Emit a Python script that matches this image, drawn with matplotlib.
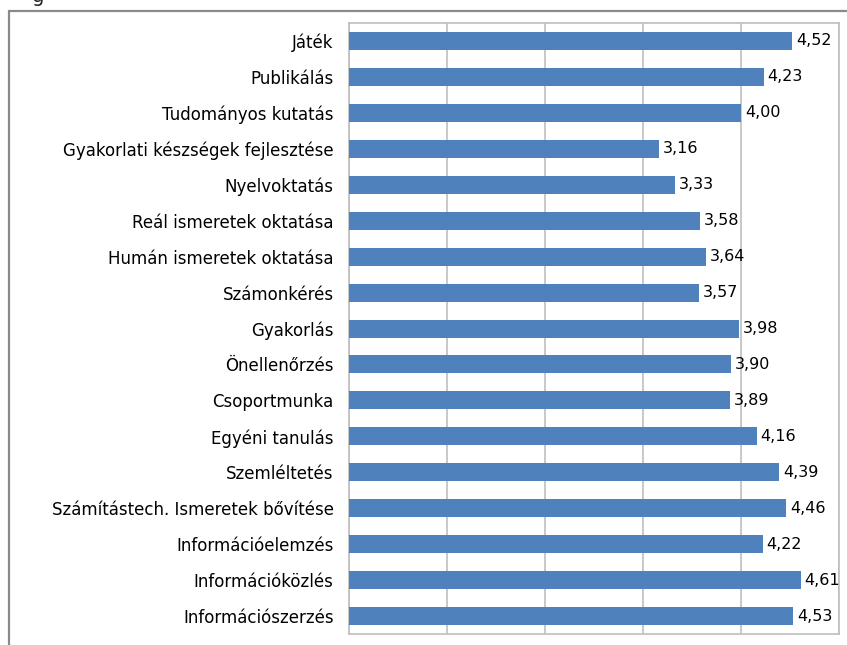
import matplotlib
matplotlib.use('Agg')
import matplotlib.pyplot as plt
from matplotlib.patches import Rectangle

plt.rcParams['font.family'] = ['DejaVu Sans']

# categories top to bottom, as in the picture
categories = ['Játék', 'Publikálás', 'Tudományos kutatás',
              'Gyakorlati készségek fejlesztése', 'Nyelvoktatás',
              'Reál ismeretek oktatása', 'Humán ismeretek oktatása',
              'Számonkérés', 'Gyakorlás', 'Önellenőrzés', 'Csoportmunka',
              'Egyéni tanulás', 'Szemléltetés',
              'Számítástech. Ismeretek bővítése', 'Információelemzés',
              'Információközlés', 'Információszerzés']
values = [4.52, 4.23, 4.00, 3.16, 3.33, 3.58, 3.64, 3.57, 3.98, 3.90,
          3.89, 4.16, 4.39, 4.46, 4.22, 4.61, 4.53]
x_ticks = [0, 1, 2, 3, 4, 5]

fig = plt.figure(figsize=(8.47, 6.45), dpi=100)
ax = fig.add_axes([0.412, 0.017, 0.5786, 0.9473])

# outer chart frame, partly cut off by the picture edge
fig.patches.append(Rectangle((9 / 847, -0.05), 1.1, 1 - 11 / 645 + 0.05,
                             transform=fig.transFigure, fill=False,
                             edgecolor='#8a8a8a', linewidth=1.6))
# fragment of the caption above the chart
fig.text(38 / 847, 1.006, 'g', fontsize=14, ha='center', va='center',
         color='#222222')

ypos = list(range(len(categories)))
ax.barh(ypos, values, height=0.5, color='#4f81bd', zorder=3)
for y, v in zip(ypos, values):
    ax.text(v + 0.04, y, f'{v:.2f}'.replace('.', ','), va='center',
            ha='left', fontsize=11.5, color='black', clip_on=False)

ax.set_xlim(0, 5)
ax.set_ylim(len(categories) - 0.5, -0.5)
ax.set_xticks(x_ticks)
ax.set_xticklabels([])
ax.set_yticks(ypos)
ax.set_yticklabels(categories, fontsize=12)
ax.tick_params(axis='both', length=0)
ax.tick_params(axis='y', pad=11)
ax.grid(axis='x', color='#bfbfbf', linewidth=1.2, zorder=0)
for s in ax.spines.values():
    s.set_color('#bfbfbf')
    s.set_linewidth(1.2)

fig.savefig('out.png', dpi=100)
